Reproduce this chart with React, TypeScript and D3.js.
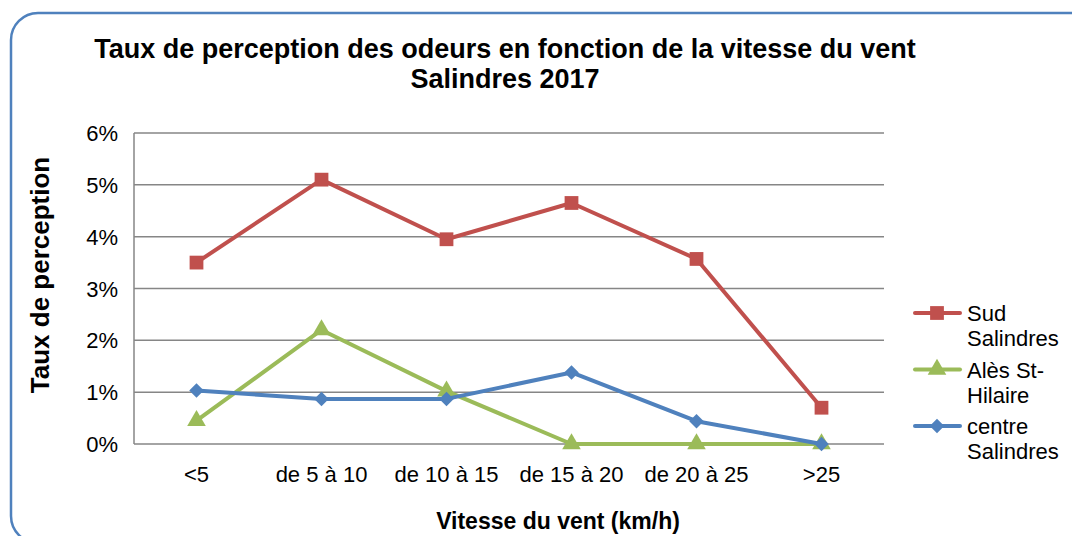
import { useEffect, useRef } from "react";
import { scaleBand, scaleLinear, select, line, symbol, symbolSquare, symbolTriangle } from "d3";

const categories = ["<5", "de 5 à 10", "de 10 à 15", "de 15 à 20", "de 20 à 25", ">25"];
const sudSalindres = [3.5, 5.1, 3.95, 4.65, 3.57, 0.7];
const alesStHilaire = [0.45, 2.2, 1.02, 0, 0, 0];
const centreSalindres = [1.03, 0.87, 0.87, 1.38, 0.44, 0];
const yTicks = [0, 1, 2, 3, 4, 5, 6];

const series = [
    { name: ["Sud", "Salindres"], values: sudSalindres, color: "#C0504D", shape: symbolSquare, size: 190, rot: 0 },
    { name: ["Alès St-", "Hilaire"], values: alesStHilaire, color: "#9BBB59", shape: symbolTriangle, size: 150, rot: 0 },
    { name: ["centre", "Salindres"], values: centreSalindres, color: "#4F81BD", shape: symbolSquare, size: 105, rot: 45 },
];

const W = 1072;
const H = 536;
const margin = { top: 133, left: 134, right: 188, bottom: 92 };
const font = "'Liberation Sans', Arial, sans-serif";

export default function App() {
    const ref = useRef<SVGGElement>(null);

    useEffect(() => {
        if (!ref.current) return;
        const g = select(ref.current);
        g.selectAll("*").remove();

        const width = W - margin.left - margin.right;
        const height = H - margin.top - margin.bottom;
        const x = scaleBand().domain(categories).range([0, width]);
        const y = scaleLinear().domain([0, 6]).range([height, 0]);
        const cx = (c: string) => (x(c) ?? 0) + x.bandwidth() / 2;

        const plot = g.append("g").attr("transform", `translate(${margin.left},${margin.top})`);

        // gridlines
        plot.selectAll("line.grid")
            .data(yTicks)
            .join("line")
            .attr("x1", 0)
            .attr("x2", width)
            .attr("y1", (d) => y(d))
            .attr("y2", (d) => y(d))
            .attr("stroke", "#868686")
            .attr("stroke-width", 1.5);

        plot.append("line")
            .attr("x1", 0).attr("x2", 0)
            .attr("y1", 0).attr("y2", height)
            .attr("stroke", "#868686")
            .attr("stroke-width", 1.5);

        plot.selectAll("text.ytick")
            .data(yTicks)
            .join("text")
            .attr("x", -16)
            .attr("y", (d) => y(d) + 8)
            .attr("text-anchor", "end")
            .attr("font-size", 22)
            .attr("font-family", font)
            .text((d) => `${d}%`);

        plot.selectAll("text.xtick")
            .data(categories)
            .join("text")
            .attr("x", (d) => cx(d))
            .attr("y", height + 38)
            .attr("text-anchor", "middle")
            .attr("font-size", 22)
            .attr("font-family", font)
            .text((d) => d);

        const lineGen = line<number>()
            .x((_, i) => cx(categories[i]))
            .y((d) => y(d));

        series.forEach((s) => {
            plot.append("path")
                .attr("d", lineGen(s.values))
                .attr("fill", "none")
                .attr("stroke", s.color)
                .attr("stroke-width", 4)
                .attr("stroke-linejoin", "round");
            plot.selectAll(null)
                .data(s.values)
                .join("path")
                .attr("transform", (d, i) => `translate(${cx(categories[i])},${y(d)}) rotate(${s.rot})`)
                .attr("d", symbol().type(s.shape).size(s.size)())
                .attr("fill", s.color);
        });

        // legend
        const legend = g.append("g").attr("transform", "translate(915,313)");
        series.forEach((s, i) => {
            const row = legend.append("g").attr("transform", `translate(0,${i * 56.5})`);
            row.append("line")
                .attr("x1", 0).attr("x2", 45)
                .attr("stroke", s.color)
                .attr("stroke-width", 4)
                .attr("stroke-linecap", "round");
            row.append("path")
                .attr("transform", `translate(22,0) rotate(${s.rot})`)
                .attr("d", symbol().type(s.shape).size(s.size)())
                .attr("fill", s.color);
            s.name.forEach((t, j) => {
                row.append("text")
                    .attr("x", 52)
                    .attr("y", 8 + j * 25)
                    .attr("font-size", 22)
                    .attr("font-family", font)
                    .text(t);
            });
        });
    }, []);

    return (
        <svg width={W} height={H} style={{ position: "absolute", left: 0, top: 0 }}>
            <rect x={0} y={0} width={W} height={H} fill="#ffffff" />
            <rect x={11} y={13} width={1090} height={530} rx={27} fill="none" stroke="#4F81BD" strokeWidth={2.5} />
            <text x={505} y={58} textAnchor="middle" fontSize={27} fontWeight="bold" fontFamily={font}>
                Taux de perception des odeurs en fonction de la vitesse du vent
            </text>
            <text x={505} y={88} textAnchor="middle" fontSize={27} fontWeight="bold" fontFamily={font}>
                Salindres 2017
            </text>
            <text x={558} y={529} textAnchor="middle" fontSize={23} fontWeight="bold" fontFamily={font}>
                Vitesse du vent (km/h)
            </text>
            <text transform="translate(49,275) rotate(-90)" textAnchor="middle" fontSize={26} fontWeight="bold" fontFamily={font}>
                Taux de perception
            </text>
            <g ref={ref} />
        </svg>
    );
}
